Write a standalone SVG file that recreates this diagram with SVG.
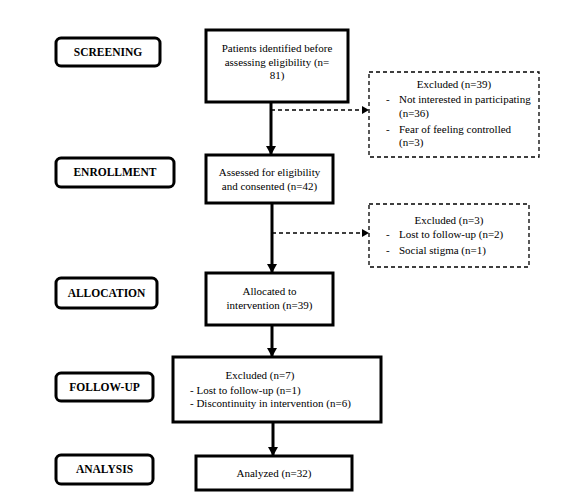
<svg xmlns="http://www.w3.org/2000/svg" width="579" height="502" viewBox="0 0 579 502">
<defs>
<style>
text{font-family:'Liberation Serif',serif;fill:#000}
.lbl{fill:#fff;stroke:#000;stroke-width:3}
.lt{font-size:11.5px;font-weight:bold;text-anchor:middle}
.box{fill:#fff;stroke:#000;stroke-width:3}
.dbox{fill:#fff;stroke:#000;stroke-width:1.3;stroke-dasharray:4,3}
.t{font-size:11px}
.c{text-anchor:middle}
.solid{stroke:#000;stroke-width:3;fill:none}
.dash{stroke:#000;stroke-width:1.3;stroke-dasharray:4,3;fill:none}
</style>
<marker id="ah" markerWidth="10" markerHeight="10" refX="8" refY="5" orient="auto" markerUnits="userSpaceOnUse">
<path d="M0,0 L9,5 L0,10 Z" fill="#000"/>
</marker>
<marker id="ahs" markerWidth="8" markerHeight="8" refX="6" refY="4" orient="auto" markerUnits="userSpaceOnUse">
<path d="M0,0 L7,4 L0,8 Z" fill="#000"/>
</marker>
</defs>
<rect width="579" height="502" fill="#fff"/>
<g id="label-screening"><rect class="lbl" x="56" y="38" width="104" height="28" rx="5"/><text class="lt" x="108" y="56">SCREENING</text></g>
<g id="label-enrollment"><rect class="lbl" x="56" y="158" width="118" height="29" rx="5"/><text class="lt" x="115" y="176">ENROLLMENT</text></g>
<g id="label-allocation"><rect class="lbl" x="56" y="278" width="101" height="30" rx="5"/><text class="lt" x="106.5" y="297">ALLOCATION</text></g>
<g id="label-followup"><rect class="lbl" x="56" y="373" width="97" height="28" rx="5"/><text class="lt" x="104.5" y="391">FOLLOW-UP</text></g>
<g id="label-analysis"><rect class="lbl" x="56" y="455" width="97" height="29" rx="5"/><text class="lt" x="104.5" y="473">ANALYSIS</text></g>

<g id="connectors">
<line class="solid" x1="271" y1="102" x2="271" y2="154" marker-end="url(#ah)"/>
<line class="dash" x1="271" y1="110" x2="368" y2="110" marker-end="url(#ahs)"/>
<line class="solid" x1="272" y1="203" x2="272" y2="272" marker-end="url(#ah)"/>
<line class="dash" x1="272" y1="233" x2="368" y2="233" marker-end="url(#ahs)"/>
<line class="solid" x1="272" y1="325" x2="272" y2="356" marker-end="url(#ah)"/>
<line class="solid" x1="273" y1="422" x2="273" y2="455" marker-end="url(#ah)"/>
</g>

<g id="node-patients"><rect class="box" x="206" y="30" width="142" height="72"/>
<text class="t c" x="277" y="52">Patients identified before</text>
<text class="t c" x="277" y="66">assessing eligibility (n=</text>
<text class="t c" x="277" y="79">81)</text></g>

<g id="node-excluded1"><rect class="dbox" x="369" y="72" width="170" height="85"/>
<text class="t c" x="454" y="88">Excluded (n=39)</text>
<text class="t" x="386" y="103">-</text><text class="t" x="399" y="103">Not interested in participating</text>
<text class="t" x="399" y="117">(n=36)</text>
<text class="t" x="386" y="133">-</text><text class="t" x="399" y="133">Fear of feeling controlled</text>
<text class="t" x="399" y="146">(n=3)</text></g>

<g id="node-assessed"><rect class="box" x="206" y="155" width="127" height="48"/>
<text class="t c" x="269.5" y="176">Assessed for eligibility</text>
<text class="t c" x="269.5" y="190">and consented (n=42)</text></g>

<g id="node-excluded2"><rect class="dbox" x="369" y="204" width="160" height="63"/>
<text class="t c" x="449" y="224">Excluded (n=3)</text>
<text class="t" x="386" y="238">-</text><text class="t" x="399" y="238">Lost to follow-up (n=2)</text>
<text class="t" x="386" y="254">-</text><text class="t" x="399" y="254">Social stigma (n=1)</text></g>

<g id="node-allocated"><rect class="box" x="206" y="273" width="127" height="52"/>
<text class="t c" x="269.5" y="295">Allocated to</text>
<text class="t c" x="269.5" y="309">intervention (n=39)</text></g>

<g id="node-followup"><rect class="box" x="173" y="357" width="208" height="65"/>
<text class="t c" x="260" y="379">Excluded (n=7)</text>
<text class="t" x="190" y="394">- Lost to follow-up (n=1)</text>
<text class="t" x="190" y="407">- Discontinuity in intervention (n=6)</text></g>

<g id="node-analyzed"><rect class="box" x="196" y="456" width="156" height="34"/>
<text class="t c" x="274" y="477">Analyzed (n=32)</text></g>
</svg>
